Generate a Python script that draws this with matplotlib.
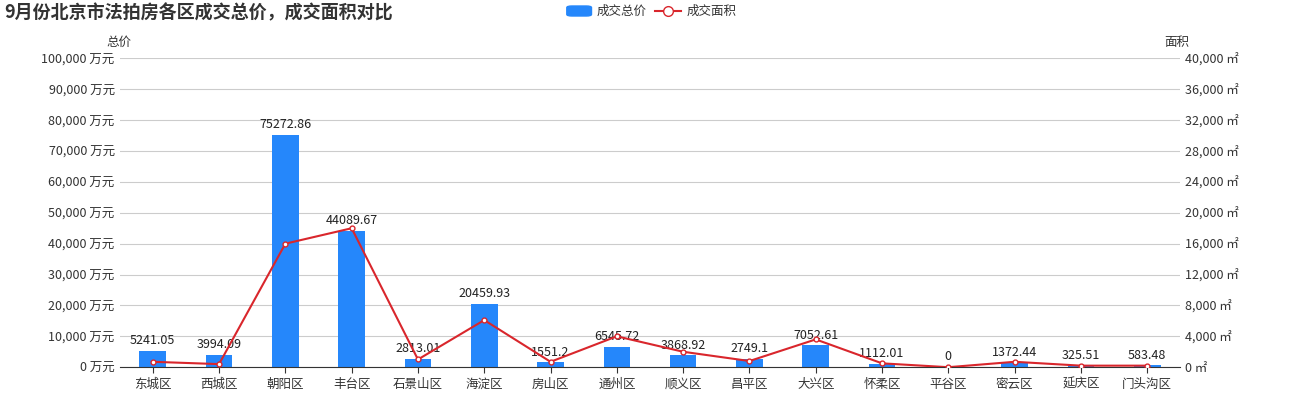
import matplotlib
matplotlib.use('Agg')
import matplotlib.pyplot as plt
import numpy as np

plt.rcParams['font.family'] = ['Noto Sans CJK SC', 'DejaVu Sans']

districts = ['东城区','西城区','朝阳区','丰台区','石景山区','海淀区','房山区','通州区','顺义区','昌平区','大兴区','怀柔区','平谷区','密云区','延庆区','门头沟区']
total_price = [5241.05,3994.09,75272.86,44089.67,2813.01,20459.93,1551.2,6545.72,3868.92,2749.1,7052.61,1112.01,0,1372.44,325.51,583.48]
area = [700,400,16000,18000,1000,6100,700,4000,2000,800,3600,500,0,700,200,200]

fig = plt.figure(figsize=(13,4), dpi=100)
ax = fig.add_axes([0.092, 0.082, 0.816, 0.772])
x = np.arange(len(districts))
ax.bar(x, total_price, width=0.4, color='#2587fb', zorder=2)
for xi, v in zip(x, total_price):
    ax.text(xi, v + 1200, f'{v:.2f}'.rstrip('0').rstrip('.'), ha='center', va='bottom', fontsize=9, color='#222')
ax.set_ylim(0, 100000)
ax.set_yticks(np.arange(0, 100001, 10000))
ax.set_yticklabels([f'{v:,} 万元' for v in range(0, 100001, 10000)], fontsize=9, color='#333')
ax.set_xlim(-0.5, len(districts)-0.5)
ax.set_xticks(x)
ax.set_xticklabels(districts, fontsize=9, color='#333')
ax.grid(axis='y', color='#cccccc', lw=0.8, zorder=0)
for s in ['top','right','left']:
    ax.spines[s].set_visible(False)
ax.spines['bottom'].set_color('#333')
ax.tick_params(axis='y', length=0)
ax.tick_params(axis='x', length=4, color='#333')
ax.text(-0.012, 1.04, '总价', transform=ax.transAxes, ha='left', fontsize=9, color='#333')

ax2 = ax.twinx()
ax2.plot(x, area, color='#d9262c', lw=1.5, marker='o', ms=3.5, mfc='white', mec='#d9262c', zorder=3)
ax2.set_ylim(0, 40000)
ax2.set_yticks(np.arange(0, 40001, 4000))
ax2.set_yticklabels([f'{v:,} ㎡' for v in range(0, 40001, 4000)], fontsize=9, color='#333')
for s in ['top','right','left','bottom']:
    ax2.spines[s].set_visible(False)
ax2.tick_params(axis='y', length=0)
ax2.text(1.008, 1.04, '面积', transform=ax2.transAxes, ha='right', fontsize=9, color='#333')

fig.text(0.003, 0.955, '9月份北京市法拍房各区成交总价，成交面积对比', fontsize=13, fontweight='bold', color='#333')
fig.patches.append(matplotlib.patches.FancyBboxPatch((0.436, 0.96), 0.019, 0.025, boxstyle='round,pad=0,rounding_size=0.004', transform=fig.transFigure, color='#2587fb'))
fig.text(0.459, 0.972, '成交总价', fontsize=9, va='center', color='#333')
fig.lines.append(matplotlib.lines.Line2D([0.504, 0.524], [0.972, 0.972], transform=fig.transFigure, color='#d9262c', lw=1.5))
fig.lines.append(matplotlib.lines.Line2D([0.514], [0.972], transform=fig.transFigure, color='#d9262c', marker='o', ms=7, mfc='white', mec='#d9262c'))
fig.text(0.528, 0.972, '成交面积', fontsize=9, va='center', color='#333')

fig.savefig('out.png', dpi=100)
